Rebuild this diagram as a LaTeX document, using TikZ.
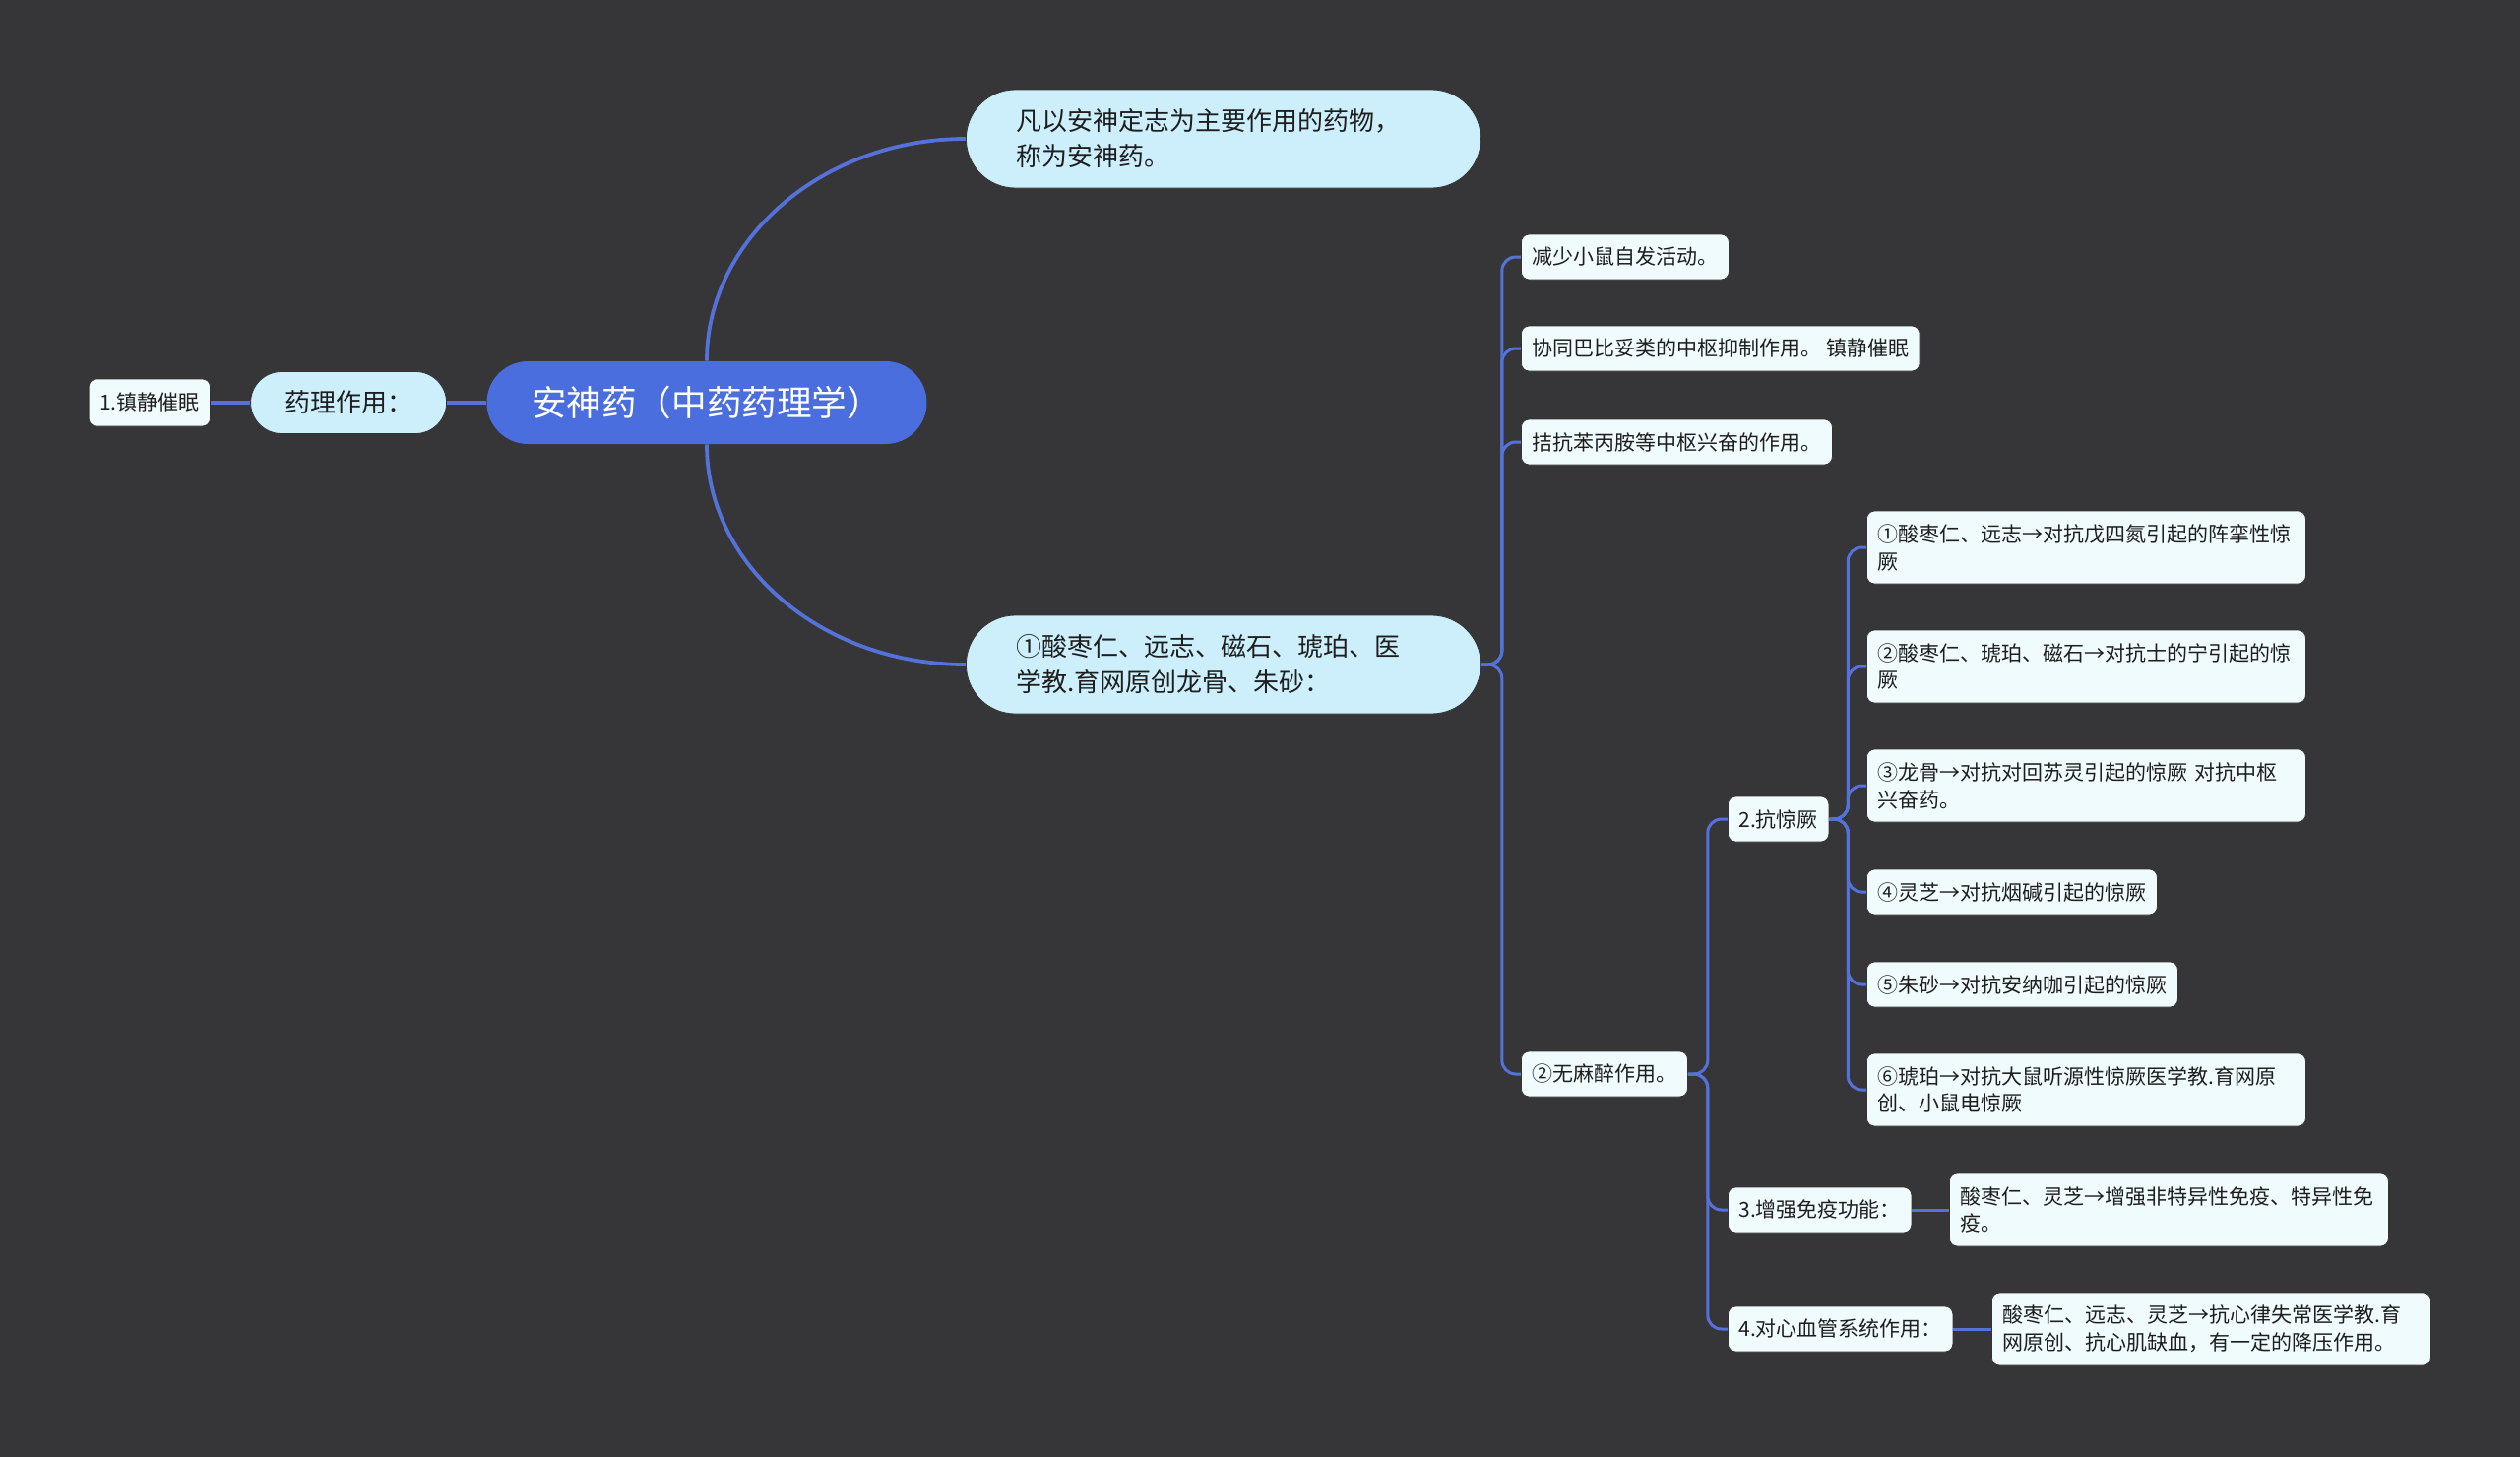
\documentclass[tikz,border=0pt]{standalone}
\usepackage{fontspec}
\setmainfont{Noto Sans CJK SC}
\usetikzlibrary{positioning}
\definecolor{MapBg}{HTML}{363537}
\definecolor{RootBlue}{HTML}{4B6EDE}
\definecolor{LinkBlue}{HTML}{5572DA}
\definecolor{TopicCyan}{HTML}{CDEFFC}
\definecolor{LeafIce}{HTML}{F0FBFE}
\definecolor{InkDark}{HTML}{1E1E1E}
\tikzset{
  rootbox/.style={fill=RootBlue, text=white, rounded corners=21pt, minimum width=223.5pt, minimum height=42pt, font=\fontsize{17.8}{21}\selectfont},
  topicbox/.style={fill=TopicCyan, text=InkDark, draw=black!80, line width=0.4pt, font=\fontsize{13}{18}\selectfont},
  leafbox/.style={fill=LeafIce, text=InkDark, draw=black!80, line width=0.4pt, rounded corners=4pt, inner xsep=5.5pt, minimum height=23pt, anchor=west, font=\fontsize{10.5}{13.9}\selectfont},
  widebox/.style={leafbox, text width=212pt, align=left, minimum height=37pt},
  link/.style={LinkBlue, line width=1.9pt},
  sublink/.style={LinkBlue, line width=1.5pt, rounded corners=7pt}
}
\begin{document}
\begin{tikzpicture}[x=0.5pt, y=-0.5pt]
  \useasboundingbox (0,0) rectangle (2560,1479);
  \fill[MapBg] (-20,-20) rectangle (2580,1499);
  % centre and left side
  \node[rootbox] (root) at (718,409) {安神药（中药药理学）};
  \node[topicbox, rounded corners=15.75pt, minimum width=99.5pt, minimum height=31.5pt, anchor=east] (yaoli) at (454,409) {药理作用：};
  \node[leafbox, anchor=east, minimum height=24pt] (zhenjing) at (214,409) {1.镇静催眠};
  % right side
  \node[topicbox, rounded corners=25pt, text width=210.5pt, inner xsep=25.5pt, minimum height=50pt, align=left, anchor=west] (dingyi) at (981,141) {凡以安神定志为主要作用的药物，\\称为安神药。};
  \node[topicbox, rounded corners=25pt, text width=210.5pt, inner xsep=25.5pt, minimum height=50pt, align=left, anchor=west] (yaowu) at (981,675) {①酸枣仁、远志、磁石、琥珀、医\\学教.育网原创龙骨、朱砂：};
  \node[leafbox] (a1) at (1545,261) {减少小鼠自发活动。};
  \node[leafbox] (a2) at (1545,354) {协同巴比妥类的中枢抑制作用。 镇静催眠};
  \node[leafbox] (a3) at (1545,449) {拮抗苯丙胺等中枢兴奋的作用。};
  \node[leafbox] (a4) at (1545,1091) {②无麻醉作用。};
  \node[leafbox] (b1) at (1755,832) {2.抗惊厥};
  \node[leafbox] (b2) at (1755,1229) {3.增强免疫功能：};
  \node[leafbox] (b3) at (1755,1350) {4.对心血管系统作用：};
  \node[widebox] (c1) at (1896,556) {①酸枣仁、远志→对抗戊四氮引起的阵挛性惊\\厥};
  \node[widebox] (c2) at (1896,677) {②酸枣仁、琥珀、磁石→对抗士的宁引起的惊\\厥};
  \node[widebox] (c3) at (1896,798) {③龙骨→对抗对回苏灵引起的惊厥 对抗中枢\\兴奋药。};
  \node[leafbox] (c4) at (1896,906) {④灵芝→对抗烟碱引起的惊厥};
  \node[leafbox] (c5) at (1896,1000) {⑤朱砂→对抗安纳咖引起的惊厥};
  \node[widebox] (c6) at (1896,1107) {⑥琥珀→对抗大鼠听源性惊厥医学教.育网原\\创、小鼠电惊厥};
  \node[widebox] (d1) at (1980,1229) {酸枣仁、灵芝→增强非特异性免疫、特异性免\\疫。};
  \node[widebox] (d2) at (2023,1350) {酸枣仁、远志、灵芝→抗心律失常医学教.育\\网原创、抗心肌缺血，有一定的降压作用。};
  % connectors
  \draw[link] (root.west) -- (yaoli.east);
  \draw[link] (yaoli.west) -- (zhenjing.east);
  \draw[link] (root.north) .. controls +(0,-124) and +(-145,0) .. (dingyi.west);
  \draw[link] (root.south) .. controls +(0,124) and +(-145,0) .. (yaowu.west);
  \foreach \n in {a1,a2,a3,a4}
    \draw[sublink] (yaowu.east) -- ++(21,0) |- (\n.west);
  \foreach \n in {b1,b2,b3}
    \draw[sublink] (a4.east) -- ++(20,0) |- (\n.west);
  \foreach \n in {c1,c2,c3,c4,c5,c6}
    \draw[sublink] (b1.east) -- ++(19,0) |- (\n.west);
  \draw[sublink] (b2.east) -- (d1.west);
  \draw[sublink] (b3.east) -- (d2.west);
\end{tikzpicture}
\end{document}
